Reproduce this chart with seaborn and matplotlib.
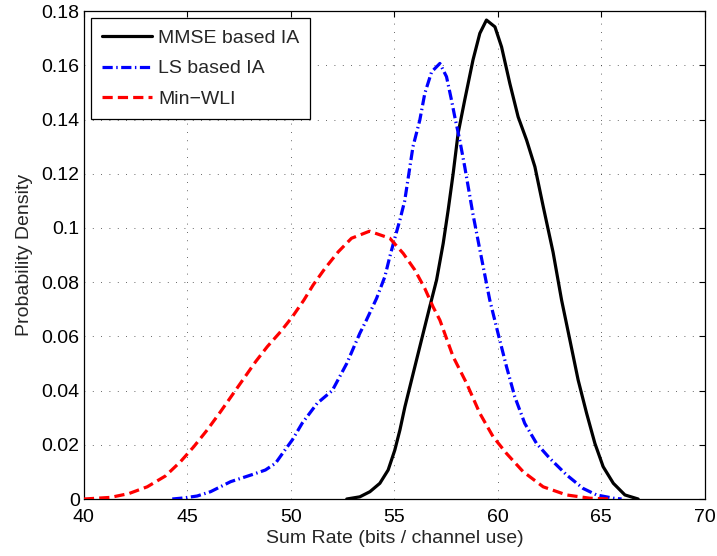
import matplotlib
matplotlib.use("Agg")
import matplotlib.pyplot as plt
import seaborn as sns
import pandas as pd

# Estimated sum-rate densities for three interference alignment schemes
mmse_x = [52.7, 53.33, 53.82, 54.3, 54.7, 55.02, 55.27, 55.51, 55.75, 55.99, 56.39, 56.71,
          57.04, 57.36, 57.6, 57.84, 58.08, 58.4, 58.8, 59.13, 59.45, 59.86, 60.18, 60.58,
          60.98, 61.39, 61.79, 62.19, 62.67, 63.08, 63.48, 63.88, 64.29, 64.69, 65.09,
          65.58, 66.14, 66.78]
mmse_y = [0.0, 0.0008, 0.0027, 0.0058, 0.0107, 0.018, 0.0255, 0.034, 0.0414, 0.0488, 0.0611,
          0.0709, 0.0808, 0.0943, 0.1066, 0.120, 0.1349, 0.1472, 0.162, 0.1718, 0.1767,
          0.1742, 0.1668, 0.1533, 0.141, 0.1324, 0.1226, 0.108, 0.091, 0.0734, 0.0587,
          0.0439, 0.0316, 0.0205, 0.0119, 0.0058, 0.0015, 0.0]

ls_x = [44.27, 44.83, 45.47, 46.12, 47.09, 48.21, 48.77, 49.26, 49.66, 50.07, 50.55, 51.27,
        52.0, 52.7, 53.33, 53.65, 54.14, 54.54, 54.78, 55.02, 55.27, 55.5, 55.9, 56.23,
        56.47, 56.8, 57.2, 57.52, 57.76, 57.92, 58.16, 58.4, 58.8, 59.13, 59.61, 60.01,
        60.42, 60.82, 61.3, 61.87, 62.51, 63.32, 64.12, 64.77, 65.58, 65.98]
ls_y = [0.0, 0.0004, 0.0011, 0.0027, 0.0064, 0.0092, 0.0107, 0.0132, 0.0175, 0.0218, 0.028,
        0.0353, 0.040, 0.050, 0.0611, 0.066, 0.074, 0.082, 0.0894, 0.0962, 0.103, 0.110,
        0.130, 0.1398, 0.1496, 0.1576, 0.1607, 0.1558, 0.1472, 0.141, 0.1324, 0.1226,
        0.105, 0.092, 0.0734, 0.0611, 0.0488, 0.0377, 0.0279, 0.0205, 0.015, 0.0089,
        0.0039, 0.0015, 0.0003, 0.0]

wli_x = [40.0, 41.29, 42.17, 43.06, 43.94, 44.67, 45.31, 45.96, 46.6, 47.17, 47.73, 48.3,
         48.86, 49.5, 50.07, 50.63, 51.08, 51.64, 52.29, 52.93, 53.8, 54.78, 55.43, 55.99,
         56.47, 56.87, 57.2, 57.84, 58.49, 59.13, 59.77, 60.42, 61.22, 62.19, 63.32,
         64.44, 65.4]
wli_y = [0.0, 0.0006, 0.002, 0.0045, 0.0085, 0.0138, 0.0193, 0.0255, 0.0322, 0.0384, 0.0445,
         0.0507, 0.0562, 0.0617, 0.0672, 0.0734, 0.079, 0.085, 0.0912, 0.0962, 0.0988,
         0.0962, 0.0906, 0.0845, 0.0777, 0.0709, 0.066, 0.0525, 0.0427, 0.0316, 0.023,
         0.0168, 0.0101, 0.0045, 0.0015, 0.0003, 0.0]

labels = ["MMSE based IA", "LS based IA", "Min\u2212WLI"]
x_ticks = [40, 45, 50, 55, 60, 65, 70]
y_ticks = [0, 0.02, 0.04, 0.06, 0.08, 0.1, 0.12, 0.14, 0.16, 0.18]
y_tick_labels = ["0", "0.02", "0.04", "0.06", "0.08", "0.1", "0.12", "0.14", "0.16", "0.18"]

sns.set_theme(style="white")
plt.rcParams["font.family"] = ["Liberation Sans", "DejaVu Sans"]
plt.rcParams["font.size"] = 14

fig = plt.figure(figsize=(7.17, 5.56), dpi=100)
ax = fig.add_axes([0.117, 0.1025, 0.866, 0.8775])

lw = 2.3
series = [
    (mmse_x, mmse_y, labels[0], "black", "-"),
    (ls_x, ls_y, labels[1], "blue", (0, (3.2, 1.1, 0.45, 1.1))),
    (wli_x, wli_y, labels[2], "red", (0, (3.2, 1.6))),
]
for xs, ys, lab, col, ls in series:
    df = pd.DataFrame({"rate": xs, "density": ys})
    sns.lineplot(data=df, x="rate", y="density", ax=ax, color=col, lw=lw,
                 linestyle=ls, label=lab, zorder=3)

ax.set_xlim(40, 70)
ax.set_ylim(0, 0.18)
ax.set_xticks(x_ticks)
ax.set_xticklabels([str(t) for t in x_ticks])
ax.set_yticks(y_ticks)
ax.set_yticklabels(y_tick_labels)
ax.tick_params(direction="in", length=4, width=0.8, top=True, right=True,
               labelsize=14, colors="black")
ax.tick_params(axis="x", pad=7)
ax.tick_params(axis="y", pad=3)

ax.grid(True, linestyle=(0, (1, 9)), color="0.2", linewidth=0.6)
for s in ax.spines.values():
    s.set_visible(True)
    s.set_color("black")
    s.set_linewidth(0.9)

ax.set_xlabel("Sum Rate (bits / channel use)", fontsize=14, labelpad=3)
ax.set_ylabel("Probability Density", fontsize=14, labelpad=6)

leg = ax.legend(loc="upper left", fontsize=14, frameon=True, fancybox=False,
                framealpha=1, edgecolor="black", borderaxespad=0.37, borderpad=0.55,
                handlelength=2.6, handletextpad=0.3, labelspacing=0.68)
leg.get_frame().set_linewidth(0.9)

fig.savefig("out.png", dpi=100)
